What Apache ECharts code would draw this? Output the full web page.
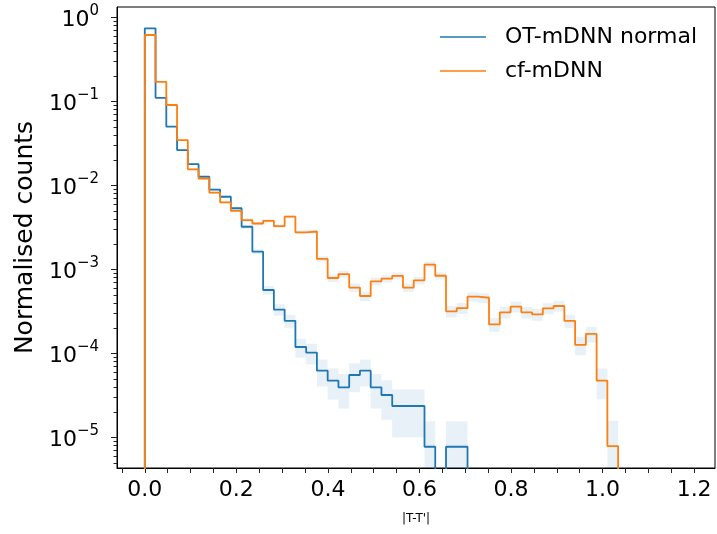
<!DOCTYPE html>
<html>
<head>
<meta charset="utf-8">
<script src="https://cdn.jsdelivr.net/npm/echarts@6/dist/echarts.min.js"></script>
<style>
  html, body { margin: 0; padding: 0; background: #fff; }
  #chart { width: 717px; height: 534px; }
</style>
</head>
<body>
<div id="chart"></div>
<script>
// Histogram bin edges in |T-T'|
const binEdges = [0, 0.0235, 0.047, 0.0705, 0.094, 0.1175, 0.141, 0.1645, 0.188, 0.2115,
  0.235, 0.2585, 0.282, 0.3055, 0.329, 0.3525, 0.376, 0.3995, 0.423, 0.4465,
  0.47, 0.4935, 0.517, 0.5405, 0.564, 0.5875, 0.611, 0.6345, 0.658, 0.6815,
  0.705, 0.7285, 0.752, 0.7755, 0.799, 0.8225, 0.846, 0.8695, 0.893, 0.9165,
  0.94, 0.9635, 0.987, 1.0105, 1.034];

const seriesNames = ['OT-mDNN normal', 'cf-mDNN'];

// OT-mDNN normal: normalised counts per bin and the uncertainty band
const otCounts = [0.740, 0.110, 0.0499, 0.0263, 0.0179, 0.01265, 0.00891, 0.00731, 0.00533, 0.00321,
  0.00162, 5.67e-4, 3.32e-4, 2.44e-4, 1.19e-4, 1.02e-4, 6.21e-5, 4.72e-5, 3.94e-5, 5.52e-5,
  6.21e-5, 3.94e-5, 3.19e-5, 2.36e-5, 2.36e-5, 2.36e-5, 7.73e-6, 0, 7.73e-6, 7.73e-6,
  0, 0, 0, 0, 0, 0, 0, 0, 0, 0, 0, 0, 0, 0];
const otLow = [0.7376, 0.1091, 0.0493, 0.02585, 0.01752, 0.01233, 0.00865, 0.00707, 0.00513, 0.00305,
  0.00151, 5.01e-4, 2.81e-4, 2.01e-4, 8.87e-5, 7.4e-5, 4.03e-5, 2.81e-5, 2.2e-5, 3.45e-5,
  4.03e-5, 2.2e-5, 1.62e-5, 1.0e-5, 1.0e-5, 1.0e-5, 0, 0, 0, 0,
  0, 0, 0, 0, 0, 0, 0, 0, 0, 0, 0, 0, 0, 0];
const otHigh = [0.7424, 0.1109, 0.0505, 0.02675, 0.01828, 0.01297, 0.00917, 0.00755, 0.00553, 0.00337,
  0.00173, 6.33e-4, 3.83e-4, 2.87e-4, 1.49e-4, 1.30e-4, 8.4e-5, 6.63e-5, 5.68e-5, 7.59e-5,
  8.4e-5, 5.68e-5, 4.76e-5, 3.72e-5, 3.72e-5, 3.72e-5, 1.55e-5, 0, 1.55e-5, 1.55e-5,
  0, 0, 0, 0, 0, 0, 0, 0, 0, 0, 0, 0, 0, 0];

// cf-mDNN: normalised counts per bin and the uncertainty band
const cfCounts = [0.616, 0.170, 0.0904, 0.0346, 0.0155, 0.01205, 0.00817, 0.00628, 0.00497, 0.00386,
  0.00351, 0.00378, 0.00326, 0.00423, 0.00276, 0.00282, 0.00133, 7.88e-4, 8.79e-4, 6.07e-4,
  4.81e-4, 7.20e-4, 7.73e-4, 8.37e-4, 6.07e-4, 7.40e-4, 1.14e-3, 8.39e-4, 3.16e-4, 3.46e-4,
  4.72e-4, 4.59e-4, 2.21e-4, 3.08e-4, 3.59e-4, 3.08e-4, 2.91e-4, 3.43e-4, 3.66e-4, 2.44e-4,
  1.26e-4, 1.70e-4, 4.72e-5, 7.87e-6];
const cfLow = [0.614, 0.1689, 0.0896, 0.0341, 0.01516, 0.01175, 0.00792, 0.00606, 0.00478, 0.00369,
  0.00335, 0.00361, 0.0031, 0.00405, 0.00261, 0.00267, 0.00123, 7.10e-4, 7.96e-4, 5.38e-4,
  4.20e-4, 6.45e-4, 6.96e-4, 7.57e-4, 5.38e-4, 6.65e-4, 1.047e-3, 7.58e-4, 2.67e-4, 2.94e-4,
  4.12e-4, 3.99e-4, 1.80e-4, 2.59e-4, 3.06e-4, 2.59e-4, 2.44e-4, 2.92e-4, 3.13e-4, 2.0e-4,
  9.5e-5, 1.34e-4, 2.83e-5, 0];
const cfHigh = [0.618, 0.1711, 0.0912, 0.0351, 0.01584, 0.01235, 0.00842, 0.0065, 0.00516, 0.00403,
  0.00367, 0.00395, 0.00342, 0.00441, 0.00291, 0.00297, 0.00143, 8.66e-4, 9.62e-4, 6.76e-4,
  5.42e-4, 7.95e-4, 8.50e-4, 9.17e-4, 6.76e-4, 8.15e-4, 1.233e-3, 9.2e-4, 3.65e-4, 3.98e-4,
  5.32e-4, 5.19e-4, 2.62e-4, 3.57e-4, 4.12e-4, 3.57e-4, 3.38e-4, 3.94e-4, 4.19e-4, 2.87e-4,
  1.57e-4, 2.06e-4, 6.6e-5, 1.57e-5];

// Axis ticks and labels
const xTickValues = [-0.05, 0, 0.05, 0.1, 0.15, 0.2, 0.25, 0.3, 0.35, 0.4, 0.45, 0.5, 0.55, 0.6,
  0.65, 0.7, 0.75, 0.8, 0.85, 0.9, 0.95, 1.0, 1.05, 1.1, 1.15, 1.2];
const xLabelValues = [0, 0.2, 0.4, 0.6, 0.8, 1.0, 1.2];
const yDecades = [-5, -4, -3, -2, -1, 0];   // exponents of the labelled decades
const yMinorMultipliers = [2, 3, 4, 5, 6, 7, 8, 9];

// The y axis runs in log10 space: 10^-5.365 .. 10^0.1226
const Y_MIN = -5.365, Y_MAX = 0.1226;
const X_MIN = -0.0607, X_MAX = 1.2456;
const FLOOR = -9; // log10 stand-in for empty bins, falls outside the plot and is clipped

const BLUE = '#1f77b4', ORANGE = '#ff7f0e';
const BAND = 'rgba(31,119,180,0.1)';
const FONT = 'DejaVu Sans';
const TICK_COLOR = '#222';

const toLog = v => (v > 0 ? Math.log10(v) : FLOOR);

// Minor log ticks (2..9 x 10^n) inside the visible range
const yMinorTicks = [];
[-6, -5, -4, -3, -2, -1, 0].forEach(e => {
  yMinorMultipliers.forEach(m => {
    const t = Math.log10(m) + e;
    if (t > Y_MIN && t < Y_MAX) yMinorTicks.push([X_MIN, t]);
  });
});

// Outline of a step histogram, starting and ending on the floor
function stepOutline(vals) {
  const pts = [[binEdges[0], FLOOR]];
  vals.forEach((v, i) => {
    const y = toLog(v);
    pts.push([binEdges[i], y], [binEdges[i + 1], y]);
  });
  pts.push([binEdges[vals.length], FLOOR]);
  return pts;
}

// One rectangle per bin for the uncertainty band
function bandData(lo, hi) {
  const out = [];
  hi.forEach((h, i) => {
    if (h > 0) out.push([binEdges[i], binEdges[i + 1], toLog(lo[i]), toLog(h)]);
  });
  return out;
}

function renderBand(params, api) {
  const p0 = api.coord([api.value(0), api.value(3)]);
  const p1 = api.coord([api.value(1), api.value(2)]);
  const cs = params.coordSys;
  const rect = echarts.graphic.clipRectByRect(
    { x: p0[0], y: p0[1], width: p1[0] - p0[0], height: p1[1] - p0[1] },
    { x: cs.x, y: cs.y, width: cs.width, height: cs.height }
  );
  if (!rect) return null;
  return { type: 'rect', shape: rect, style: { fill: BAND } };
}

// Short outward tick on the left spine at a minor log position
function renderMinorTick(params, api) {
  const p = api.coord([api.value(0), api.value(1)]);
  const y = Math.round(p[1]) + 0.5;
  const x = params.coordSys.x;
  return {
    type: 'line',
    shape: { x1: x - 3.5, y1: y, x2: x, y2: y },
    style: { stroke: TICK_COLOR, lineWidth: 1 }
  };
}

const supMinus = n => (n < 0 ? '\u2212' + Math.abs(n) : String(n));

const chart = echarts.init(document.getElementById('chart'), null, { renderer: 'canvas' });

chart.setOption({
  animation: false,
  backgroundColor: '#fff',
  grid: {
    left: 117, top: 7, right: 2, bottom: 66,
    containLabel: false,
    outerBoundsMode: 'none',
    show: true, borderColor: '#000', borderWidth: 1, backgroundColor: 'transparent'
  },
  legend: {
    orient: 'vertical',
    left: 440, top: 25,
    padding: 0,
    itemGap: 10,
    itemWidth: 46, itemHeight: 1.6,
    icon: 'rect',
    data: seriesNames,
    textStyle: { fontFamily: FONT, fontSize: 22, color: '#000', lineHeight: 24, padding: [0, 0, 0, 14] }
  },
  xAxis: {
    type: 'value',
    min: X_MIN, max: X_MAX,
    name: "|T-T'|",
    nameLocation: 'middle',
    nameGap: 45,
    nameTextStyle: { fontFamily: FONT, fontSize: 12, color: '#000' },
    axisLine: { show: true, onZero: false, lineStyle: { color: '#000', width: 1 } },
    axisTick: { show: true, length: 5, customValues: xTickValues, lineStyle: { color: TICK_COLOR, width: 1 } },
    axisLabel: {
      show: true, customValues: xLabelValues, margin: 11,
      fontFamily: FONT, fontSize: 22, color: '#000',
      formatter: v => v.toFixed(1)
    },
    splitLine: { show: false }
  },
  yAxis: {
    type: 'value',
    min: Y_MIN, max: Y_MAX,
    position: 'left',
    name: 'Normalised counts',
    nameLocation: 'middle',
    nameGap: 79,
    nameTextStyle: { fontFamily: FONT, fontSize: 25, color: '#000' },
    axisLine: { show: true, onZero: false, lineStyle: { color: '#000', width: 1 } },
    axisTick: { show: true, length: 6, customValues: yDecades, lineStyle: { color: TICK_COLOR, width: 1 } },
    axisLabel: {
      show: true, customValues: yDecades, margin: 18,
      formatter: v => '{b|10}{s|' + supMinus(Math.round(v)) + '}',
      rich: {
        b: { fontFamily: FONT, fontSize: 22, color: '#000', padding: [5, 0, 0, 0], verticalAlign: 'bottom' },
        s: { fontFamily: FONT, fontSize: 15, color: '#000', verticalAlign: 'top' }
      }
    },
    splitLine: { show: false }
  },
  series: [
    {
      name: 'otBand', type: 'custom', renderItem: renderBand,
      data: bandData(otLow, otHigh), encode: { x: [0, 1], y: [2, 3] },
      silent: true, z: 1
    },
    {
      name: 'cfBand', type: 'custom', renderItem: renderBand,
      data: bandData(cfLow, cfHigh), encode: { x: [0, 1], y: [2, 3] },
      silent: true, z: 1
    },
    {
      name: 'minorTicks', type: 'custom', renderItem: renderMinorTick,
      data: yMinorTicks, encode: { x: 0, y: 1 },
      silent: true, clip: false, z: 5
    },
    {
      name: seriesNames[0], type: 'line', data: stepOutline(otCounts),
      showSymbol: false, symbol: 'none', clip: true, z: 3,
      color: BLUE, lineStyle: { color: BLUE, width: 1.8 }
    },
    {
      name: seriesNames[1], type: 'line', data: stepOutline(cfCounts),
      showSymbol: false, symbol: 'none', clip: true, z: 4,
      color: ORANGE, lineStyle: { color: ORANGE, width: 1.8 }
    }
  ]
});
</script>
</body>
</html>
